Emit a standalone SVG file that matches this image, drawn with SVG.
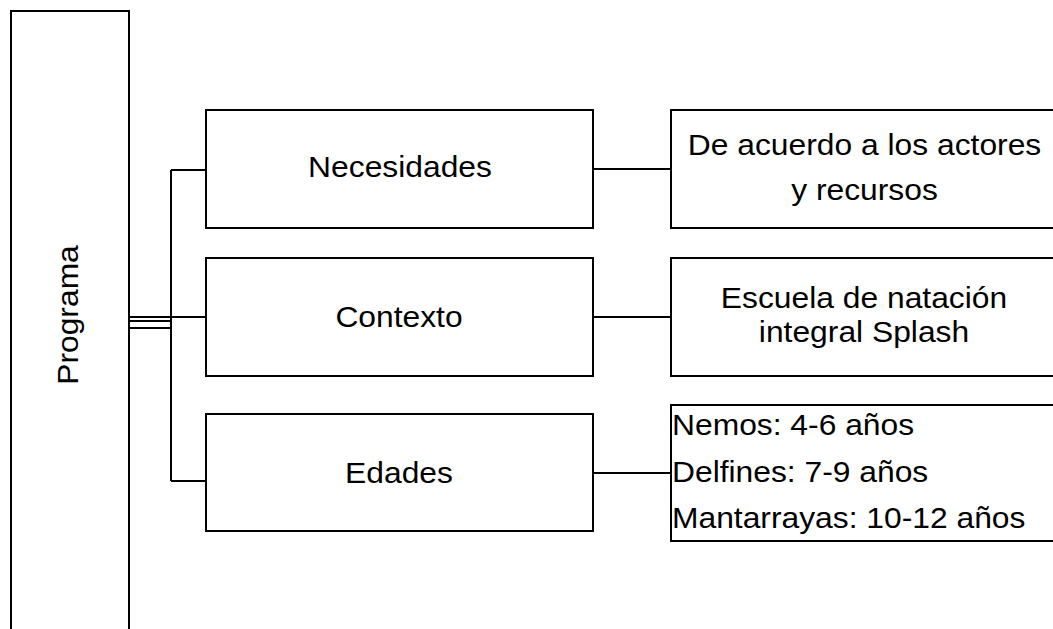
<svg xmlns="http://www.w3.org/2000/svg" width="1053" height="629" viewBox="0 0 1053 629">
<style>
.box{fill:#fff;stroke:#000;stroke-width:2}
.t{font-family:"Liberation Sans",Arial,sans-serif;font-size:30px;fill:#000}
.c{text-anchor:middle}
.ln{fill:none;stroke:#000;stroke-width:2}
</style>
<rect width="1053" height="629" fill="#fff"/>
<g id="connectors">
<path class="ln" d="M129 317H206"/>
<path class="ln" d="M129 321H171"/>
<path class="ln" d="M129 328H171"/>
<path class="ln" d="M171 170V481"/>
<path class="ln" d="M171 170H206"/>
<path class="ln" d="M171 481H206"/>
<path class="ln" d="M593 169H671"/>
<path class="ln" d="M593 317H671"/>
<path class="ln" d="M593 473H671"/>
</g>
<g id="programa">
<rect class="box" x="11" y="11" width="118" height="640"/>
<text class="t c" transform="translate(78,315) rotate(-90) scale(1.06,1)">Programa</text>
</g>
<g id="necesidades">
<rect class="box" x="206" y="110" width="387" height="118"/>
<text class="t c" transform="translate(400,177) scale(1.06,1)">Necesidades</text>
</g>
<g id="contexto">
<rect class="box" x="206" y="258" width="387" height="118"/>
<text class="t c" transform="translate(399,327) scale(1.06,1)">Contexto</text>
</g>
<g id="edades">
<rect class="box" x="206" y="414" width="387" height="117"/>
<text class="t c" transform="translate(399,483) scale(1.06,1)">Edades</text>
</g>
<g id="actores">
<rect class="box" x="671" y="110" width="387" height="118"/>
<text class="t c" transform="translate(864.5,155) scale(1.06,1)">De acuerdo a los actores</text>
<text class="t c" transform="translate(864.5,200) scale(1.06,1)">y recursos</text>
</g>
<g id="escuela">
<rect class="box" x="671" y="258" width="387" height="118"/>
<text class="t c" transform="translate(864,308) scale(1.06,1)">Escuela de natación</text>
<text class="t c" transform="translate(864,342) scale(1.06,1)">integral Splash</text>
</g>
<g id="grupos">
<rect class="box" x="671" y="405" width="387" height="136"/>
<text class="t" transform="translate(672,435) scale(1.06,1)">Nemos: 4-6 años</text>
<text class="t" transform="translate(672,482) scale(1.06,1)">Delfines: 7-9 años</text>
<text class="t" transform="translate(672,528) scale(1.06,1)">Mantarrayas: 10-12 años</text>
</g>
</svg>
